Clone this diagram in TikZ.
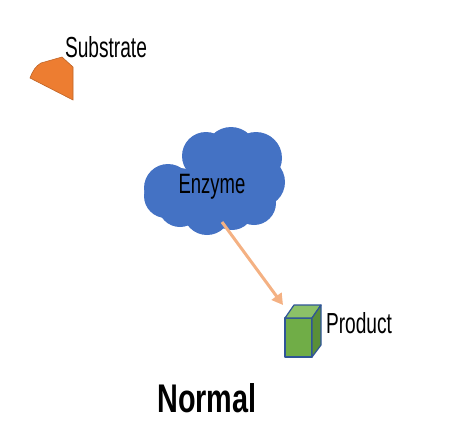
\documentclass[tikz,border=0pt]{standalone}
\usepackage{fontspec}
\usepackage{tikz}
\usetikzlibrary{arrows.meta}
\newfontfamily\narrowsans[FakeStretch=0.66]{Liberation Sans}
\newfontfamily\narrowbold[FakeStretch=0.72]{Liberation Sans Bold}
\definecolor{substrateorange}{HTML}{ED7D31}
\definecolor{enzymeblue}{HTML}{4472C4}
\definecolor{edgeblue}{HTML}{2F5597}
\definecolor{arrowpeach}{HTML}{F4B183}
\definecolor{cubegreen}{HTML}{70AD47}
\definecolor{cubetop}{HTML}{8CC168}
\definecolor{cubeside}{HTML}{5A8F38}
\tikzset{
  label text/.style={font=\narrowsans\fontsize{29}{32}\selectfont, inner sep=0pt},
  cube face/.style={draw=edgeblue, line width=1.2pt, line join=round}
}

\begin{document}
\begin{tikzpicture}[x=1pt,y=-1pt]
\useasboundingbox (0,0) rectangle (453,440);

% substrate
\draw[substrateorange!80!black, fill=substrateorange, line width=0.6pt]
  (30,78) .. controls (33,70) and (36,66) .. (41,63) -- (62,57) -- (73,67) -- (73,100) -- cycle;
\node[label text] (substrate) at (106,47) {Substrate};

% enzyme cloud (union of puffs)
\fill[enzymeblue] (190,160) rectangle (255,205);
\foreach \cx/\cy/\r in {206/156/24, 231/153/26, 256/158/26, 260/182/25,
                        254/203/22, 232/208/22, 207/211/24, 180/205/22,
                        166/196/22, 168/188/24, 180/186/18}
  \fill[enzymeblue] (\cx,\cy) circle[radius=\r];
\node[label text, font=\narrowsans\fontsize{28}{30}\selectfont] (enzyme) at (212,187) {Enzyme};

% product cube
\draw[cube face, fill=cubegreen] (285,318) rectangle (312,357);
\draw[cube face, fill=cubetop] (285,318) -- (294,305) -- (321,305) -- (312,318) -- cycle;
\draw[cube face, fill=cubeside] (312,318) -- (321,305) -- (321,345) -- (312,357) -- cycle;
\coordinate (cube) at (283,305);
\node[label text] (product) at (359,323) {Product};

% reaction arrow
\coordinate (arrowstart) at (222,222);
\draw[arrowpeach, line width=3pt, -{Triangle[length=11pt,width=12pt]}] (arrowstart) -- (cube);

\node[font=\narrowbold\fontsize{40}{44}\selectfont, inner sep=0pt] (normal) at (207,398) {Normal};

\end{tikzpicture}
\end{document}
